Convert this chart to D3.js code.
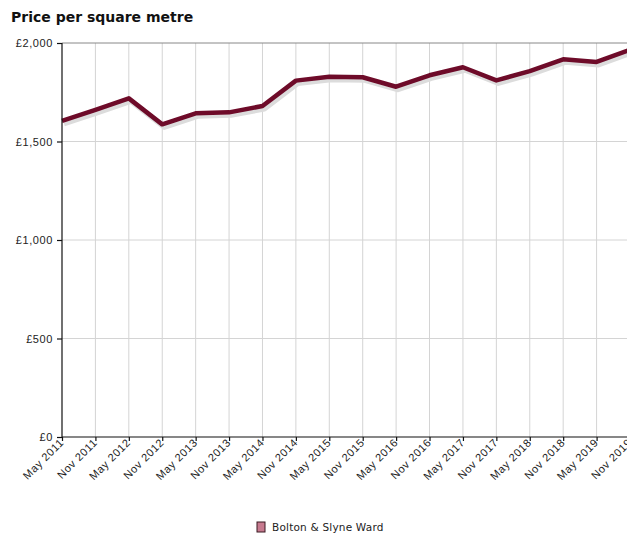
<!DOCTYPE html>
<meta charset="utf-8">
<style>
body {
  margin: 0;
  background: #fff;
  font-family: "DejaVu Sans", Verdana, sans-serif;
}
.title {
  font-size: 14px;
  font-weight: bold;
  fill: #111;
}
.grid line {
  stroke: #d4d4d4;
  stroke-width: 1;
}
.axis text {
  font-size: 11px;
  fill: #222;
  letter-spacing: 0.6px;
}
.axis path, .axis line {
  stroke: #111;
  stroke-width: 1.2;
}
.frame {
  stroke: #888;
  stroke-width: 1;
}
.shadow {
  fill: none;
  stroke: #dcdcdc;
  stroke-width: 5;
  stroke-linejoin: round;
}
.series {
  fill: none;
  stroke: #6e0b29;
  stroke-width: 4.5;
  stroke-linejoin: round;
}
.legend text {
  font-size: 10.5px;
  fill: #222;
  letter-spacing: 0.2px;
}
</style>
<body>
<script src="https://cdn.jsdelivr.net/npm/d3@7"></script>
<script>

var width = 627,
    height = 539;

// half-year periods on the x axis
var periods = ["May 2011", "Nov 2011", "May 2012", "Nov 2012", "May 2013", "Nov 2013",
  "May 2014", "Nov 2014", "May 2015", "Nov 2015", "May 2016", "Nov 2016",
  "May 2017", "Nov 2017", "May 2018", "Nov 2018", "May 2019", "Nov 2019"];

// price per square metre (GBP)
var prices = [1605, 1660, 1719, 1587, 1643, 1648,
  1680, 1809, 1829, 1826, 1778, 1836,
  1877, 1810, 1857, 1917, 1904, 1965];

var yTicks = [0, 500, 1000, 1500, 2000];
var seriesName = "Bolton & Slyne Ward";

// plot box (right edge runs past the window, as in the original)
var plotLeft = 62, plotRight = 630, plotTop = 43, plotBottom = 437;

var x = d3.scalePoint()
    .domain(periods)
    .range([plotLeft, plotRight]);

var y = d3.scaleLinear()
    .domain([0, 2000])
    .range([plotBottom, plotTop]);

var svg = d3.select("body").append("svg")
    .attr("width", width)
    .attr("height", height);

svg.append("text")
    .attr("class", "title")
    .attr("x", 11)
    .attr("y", 22)
    .text("Price per square metre");

// gridlines
var grid = svg.append("g").attr("class", "grid");

grid.selectAll(".v")
    .data(periods.slice(1))
  .enter().append("line")
    .attr("x1", function(d) { return x(d); })
    .attr("x2", function(d) { return x(d); })
    .attr("y1", plotTop)
    .attr("y2", plotBottom);

grid.selectAll(".h")
    .data(yTicks.slice(1, -1))
  .enter().append("line")
    .attr("x1", plotLeft)
    .attr("x2", plotRight)
    .attr("y1", function(d) { return y(d); })
    .attr("y2", function(d) { return y(d); });

svg.append("line")
    .attr("class", "frame")
    .attr("x1", plotLeft)
    .attr("x2", plotRight)
    .attr("y1", y(2000))
    .attr("y2", y(2000));

// line with soft shadow
var line = d3.line()
    .x(function(d, i) { return x(periods[i]); })
    .y(function(d) { return y(d); });

svg.append("path")
    .datum(prices)
    .attr("class", "shadow")
    .attr("transform", "translate(2,3)")
    .attr("d", line);

svg.append("path")
    .datum(prices)
    .attr("class", "series")
    .attr("d", line);

// axes
var yAxis = d3.axisLeft(y)
    .tickValues(yTicks)
    .tickSize(5)
    .tickPadding(4)
    .tickFormat(function(d) { return "£" + d3.format(",")(d); });

svg.append("g")
    .attr("class", "axis")
    .attr("transform", "translate(" + plotLeft + ",0)")
    .call(yAxis)
    .call(function(g) { g.select(".domain").attr("d", "M0," + plotTop + "V" + plotBottom); });

var xAxis = d3.axisBottom(x)
    .tickSize(4)
    .tickPadding(3);

svg.append("g")
    .attr("class", "axis")
    .attr("transform", "translate(0," + plotBottom + ")")
    .call(xAxis)
    .call(function(g) { g.select(".domain").attr("d", "M" + plotLeft + ",0H" + plotRight); })
  .selectAll("text")
    .style("text-anchor", "end")
    .attr("x", -3)
    .attr("y", 2)
    .attr("dy", "0.35em")
    .attr("transform", "rotate(-45)");

// legend
var legend = svg.append("g")
    .attr("class", "legend")
    .attr("transform", "translate(257,522)");

legend.append("rect")
    .attr("width", 8)
    .attr("height", 10)
    .attr("fill", "#c77a8f")
    .attr("stroke", "#3a1a22")
    .attr("stroke-width", 1);

legend.append("text")
    .attr("x", 15)
    .attr("y", 9)
    .text(seriesName);

</script>
